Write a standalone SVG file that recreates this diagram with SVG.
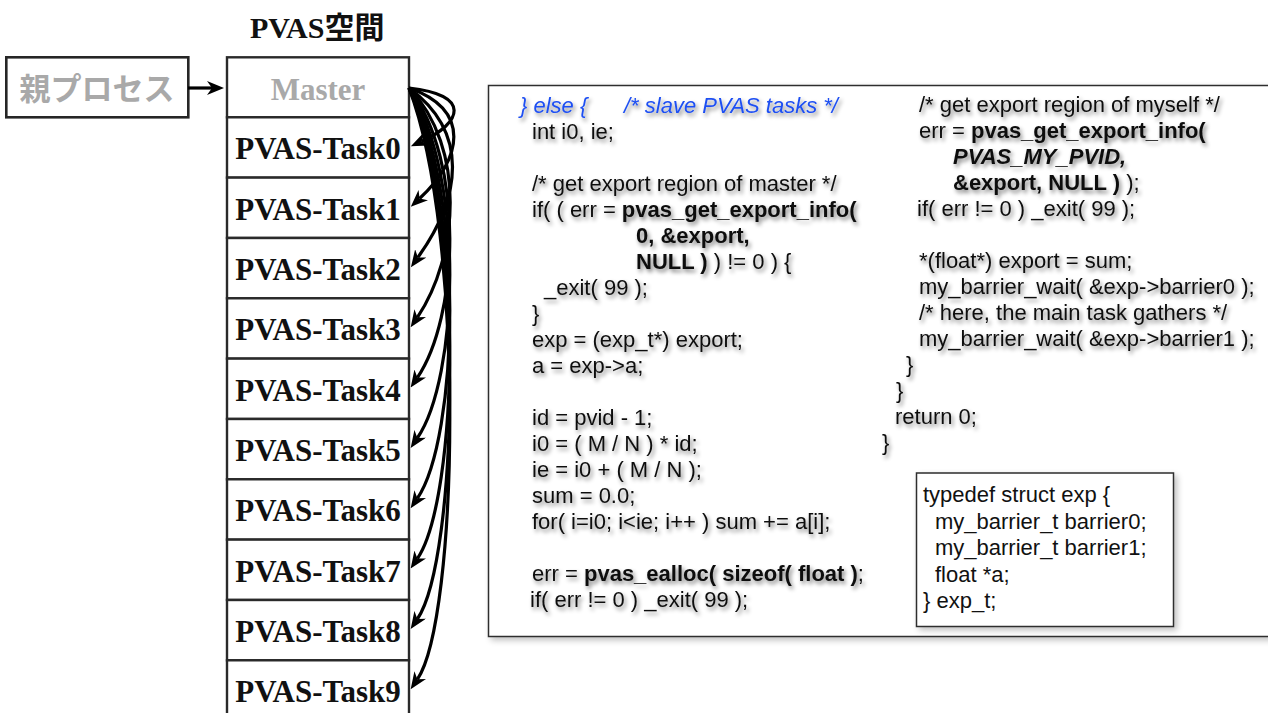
<svg xmlns="http://www.w3.org/2000/svg" width="1268" height="713" viewBox="0 0 1268 713">
  <style>
    .box { fill: #ffffff; stroke: #262626; stroke-width: 2.6; }
    .row { fill: #ffffff; stroke: #2a2a2a; stroke-width: 2.4; }
    .serif { font-family: "Liberation Serif", "Noto Sans CJK JP", serif; font-weight: bold; }
    .task { font-size: 31px; fill: #111111; text-anchor: middle; }
    .dim { fill: #a9a9a9; }
    .code { font-family: "Liberation Sans", Arial, sans-serif; font-size: 22px; fill: #111111; }
    .b { font-weight: bold; }
    .blue { fill: #1f4ff2; font-style: italic; }
    .conn { fill: none; stroke: #000000; stroke-width: 3.2; }
    .panel { fill: #ffffff; stroke: #2e2e2e; stroke-width: 1.5; }
  </style>
  <defs>
    <marker id="head" viewBox="0 0 17 14" refX="5" refY="7" markerWidth="17" markerHeight="14" markerUnits="userSpaceOnUse" orient="auto">
      <path d="M0,0 L17,7 L0,14 L5,7 z" fill="#000000"/>
    </marker>
    <filter id="textShadow" x="-5%" y="-10%" width="112%" height="125%">
      <feGaussianBlur in="SourceAlpha" stdDeviation="2.2"/>
      <feOffset dx="2" dy="3" result="off"/>
      <feComponentTransfer><feFuncA type="linear" slope="0.5"/></feComponentTransfer>
      <feMerge><feMergeNode/><feMergeNode in="SourceGraphic"/></feMerge>
    </filter>
    <filter id="boxShadow" x="-5%" y="-5%" width="115%" height="115%">
      <feGaussianBlur in="SourceAlpha" stdDeviation="3"/>
      <feOffset dx="3" dy="3"/>
      <feComponentTransfer><feFuncA type="linear" slope="0.25"/></feComponentTransfer>
      <feMerge><feMergeNode/><feMergeNode in="SourceGraphic"/></feMerge>
    </filter>
  </defs>

  <rect width="1268" height="713" fill="#ffffff"/>

  <!-- title of the address space -->
  <text id="title" class="serif" x="250" y="38" font-size="30" fill="#111111">PVAS空間</text>

  <!-- parent process -->
  <g id="parent">
    <rect class="box" x="6.3" y="57.3" width="182" height="60"/>
    <text x="97" y="99.5" font-family="'Noto Sans CJK JP', sans-serif" font-weight="bold" font-size="31" text-anchor="middle" class="dim">親プロセス</text>
  </g>

  <!-- PVAS task stack -->
  <g id="master">
    <rect class="row" x="227" y="57.3" width="182" height="60"/>
    <text class="serif dim" x="318" y="99.5" font-size="31" text-anchor="middle">Master</text>
  </g>
  <g id="task0"><rect class="row" x="227" y="117.3" width="182" height="60.33"/><text class="serif task" x="318" y="159.3">PVAS-Task0</text></g>
  <g id="task1"><rect class="row" x="227" y="177.6" width="182" height="60.33"/><text class="serif task" x="318" y="219.6">PVAS-Task1</text></g>
  <g id="task2"><rect class="row" x="227" y="238" width="182" height="60.33"/><text class="serif task" x="318" y="280">PVAS-Task2</text></g>
  <g id="task3"><rect class="row" x="227" y="298.3" width="182" height="60.33"/><text class="serif task" x="318" y="340.3">PVAS-Task3</text></g>
  <g id="task4"><rect class="row" x="227" y="358.6" width="182" height="60.33"/><text class="serif task" x="318" y="400.6">PVAS-Task4</text></g>
  <g id="task5"><rect class="row" x="227" y="419" width="182" height="60.33"/><text class="serif task" x="318" y="461">PVAS-Task5</text></g>
  <g id="task6"><rect class="row" x="227" y="479.3" width="182" height="60.33"/><text class="serif task" x="318" y="521.3">PVAS-Task6</text></g>
  <g id="task7"><rect class="row" x="227" y="539.6" width="182" height="60.33"/><text class="serif task" x="318" y="581.6">PVAS-Task7</text></g>
  <g id="task8"><rect class="row" x="227" y="600" width="182" height="60.33"/><text class="serif task" x="318" y="642">PVAS-Task8</text></g>
  <g id="task9"><rect class="row" x="227" y="660.3" width="182" height="70"/><text class="serif task" x="318" y="702.3">PVAS-Task9</text></g>

  <!-- spawn arrows -->
  <g id="connectors">
    <path class="conn" d="M188,88 L212,88" marker-end="url(#head)"/>
    <path class="conn" d="M409,88 C472,95 462,123 421.8,141.3" marker-end="url(#head)"/>
    <path class="conn" d="M409,88 C472,110 462,159.3 419.6,198.5" marker-end="url(#head)"/>
    <path class="conn" d="M409,88 C470,132.8 461,197.2 417.9,257.4" marker-end="url(#head)"/>
    <path class="conn" d="M409,88 C467,148 458,257.5 417.4,317.3" marker-end="url(#head)"/>
    <path class="conn" d="M409,88 C466,163 458,317.8 417.4,377.6" marker-end="url(#head)"/>
    <path class="conn" d="M409,88 C466,178 458,378.2 417.4,438" marker-end="url(#head)"/>
    <path class="conn" d="M409,88 C466,193 458,438.5 417.4,498.3" marker-end="url(#head)"/>
    <path class="conn" d="M409,88 C466,208 458,498.8 417.4,558.6" marker-end="url(#head)"/>
    <path class="conn" d="M409,88 C466,223 458,559.2 417.4,619" marker-end="url(#head)"/>
    <path class="conn" d="M409,88 C466,238 458,619.5 417.4,679.3" marker-end="url(#head)"/>
  </g>

  <!-- slave task source code -->
  <g id="code-panel">
    <rect class="panel" x="488.5" y="85.5" width="800" height="551" filter="url(#boxShadow)"/>
    <g class="code" filter="url(#textShadow)">
      <text x="520" y="113" class="blue">} else {</text>
      <text x="624" y="113" class="blue">/* slave PVAS tasks */</text>
      <text x="532" y="139">int i0, ie;</text>
      <text x="532" y="191">/* get export region of master */</text>
      <text x="532" y="217">if( ( err = <tspan class="b">pvas_get_export_info(</tspan></text>
      <text x="636" y="243" class="b">0, &amp;export,</text>
      <text x="636" y="269"><tspan class="b">NULL )</tspan> ) != 0 ) {</text>
      <text x="544" y="295">_exit( 99 );</text>
      <text x="532" y="321">}</text>
      <text x="532" y="347">exp = (exp_t*) export;</text>
      <text x="532" y="373">a = exp-&gt;a;</text>
      <text x="532" y="425">id = pvid - 1;</text>
      <text x="532" y="451">i0 = ( M / N ) * id;</text>
      <text x="532" y="477">ie = i0 + ( M / N );</text>
      <text x="532" y="503">sum = 0.0;</text>
      <text x="532" y="529">for( i=i0; i&lt;ie; i++ ) sum += a[i];</text>
      <text x="532" y="581">err = <tspan class="b">pvas_ealloc( sizeof( float )</tspan>;</text>
      <text x="530" y="607">if( err != 0 ) _exit( 99 );</text>

      <text x="919" y="112">/* get export region of myself */</text>
      <text x="919" y="138">err = <tspan class="b">pvas_get_export_info(</tspan></text>
      <text x="953" y="164" class="b" font-style="italic">PVAS_MY_PVID,</text>
      <text x="953" y="190"><tspan class="b">&amp;export, NULL )</tspan> );</text>
      <text x="917" y="216">if( err != 0 ) _exit( 99 );</text>
      <text x="919" y="268">*(float*) export = sum;</text>
      <text x="919" y="294">my_barrier_wait( &amp;exp-&gt;barrier0 );</text>
      <text x="919" y="320">/* here, the main task gathers */</text>
      <text x="919" y="346">my_barrier_wait( &amp;exp-&gt;barrier1 );</text>
      <text x="906" y="372">}</text>
      <text x="896" y="398">}</text>
      <text x="895" y="424">return 0;</text>
      <text x="882" y="450">}</text>
    </g>
  </g>

  <!-- shared export structure -->
  <g id="typedef-box">
    <rect class="panel" x="916.5" y="473" width="257" height="153.5" filter="url(#boxShadow)"/>
    <g class="code">
      <text x="923" y="502">typedef struct exp {</text>
      <text x="935" y="528.5">my_barrier_t barrier0;</text>
      <text x="935" y="555">my_barrier_t barrier1;</text>
      <text x="935" y="581.5">float *a;</text>
      <text x="923" y="608">} exp_t;</text>
    </g>
  </g>
</svg>
